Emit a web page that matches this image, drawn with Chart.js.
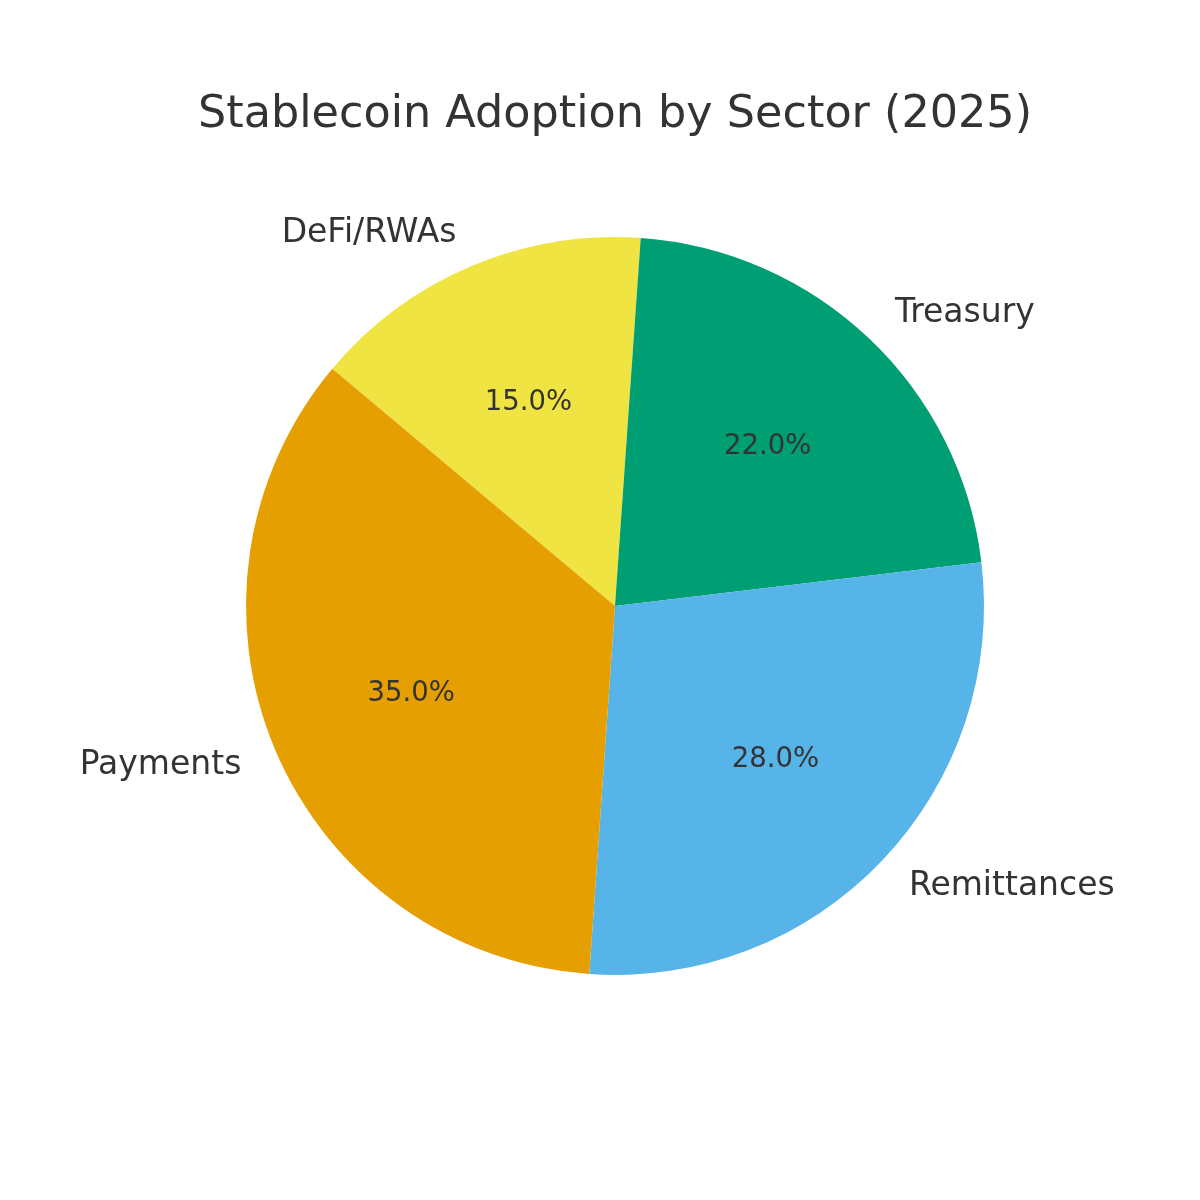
<!DOCTYPE html>
<html>
<head>
<meta charset="utf-8">
<title>Stablecoin Adoption by Sector (2025)</title>
<script src="https://cdn.jsdelivr.net/npm/chart.js@4.4.1/dist/chart.umd.min.js"></script>
<style>
    html, body { margin: 0; padding: 0; background: #ffffff; }
    #pie { display: block; }
</style>
</head>
<body>
<canvas id="pie" width="1200" height="1200"></canvas>
<script>
// clockwise order, starting from the upper-left edge
const sectors = ['DeFi/RWAs', 'Treasury', 'Remittances', 'Payments'];
const shares = [15, 22, 28, 35];
const sectorColors = ['#F0E442', '#009E73', '#56B4E9', '#E69F00'];

const textColor = '#333333';
const fontFamily = '"DejaVu Sans", Verdana, sans-serif';

// draws sector names outside the pie and percentages inside (matplotlib style)
const pieLabels = {
    id: 'pieLabels',
    afterDatasetsDraw: function (chart) {
        const ctx = chart.ctx;
        const meta = chart.getDatasetMeta(0);
        const values = chart.data.datasets[0].data;
        const total = values.reduce((a, b) => a + b, 0);

        ctx.save();
        ctx.fillStyle = textColor;
        ctx.textBaseline = 'middle';

        meta.data.forEach((arc, i) => {
            const p = arc.getProps(['x', 'y', 'startAngle', 'endAngle', 'outerRadius'], true);
            const mid = (p.startAngle + p.endAngle) / 2;
            const cos = Math.cos(mid);
            const sin = Math.sin(mid);

            // name at 1.1 r
            ctx.font = '33px ' + fontFamily;
            ctx.textAlign = cos >= 0 ? 'left' : 'right';
            ctx.fillText(chart.data.labels[i], p.x + cos * p.outerRadius * 1.1, p.y + sin * p.outerRadius * 1.1 + 1);

            // percentage at 0.6 r
            ctx.font = '27.5px ' + fontFamily;
            ctx.textAlign = 'center';
            const pct = (values[i] / total * 100).toFixed(1) + '%';
            ctx.fillText(pct, p.x + cos * p.outerRadius * 0.6, p.y + sin * p.outerRadius * 0.6 + 1);
        });
        ctx.restore();
    }
};

new Chart(document.getElementById('pie'), {
    type: 'pie',
    data: {
        labels: sectors,
        datasets: [{
            data: shares,
            backgroundColor: sectorColors,
            borderWidth: 0,
            hoverOffset: 0
        }]
    },
    options: {
        responsive: false,
        devicePixelRatio: 1,
        animation: false,
        rotation: -50,
        layout: {
            padding: { left: 30, right: 0, top: 0, bottom: 225 }
        },
        plugins: {
            legend: { display: false },
            tooltip: { enabled: false },
            title: {
                display: true,
                text: 'Stablecoin Adoption by Sector (2025)',
                color: textColor,
                font: { family: fontFamily, size: 44.5, weight: 'normal', lineHeight: 1.2 },
                padding: { top: 89, bottom: 94.6 }
            }
        }
    },
    plugins: [pieLabels]
});
</script>
</body>
</html>
